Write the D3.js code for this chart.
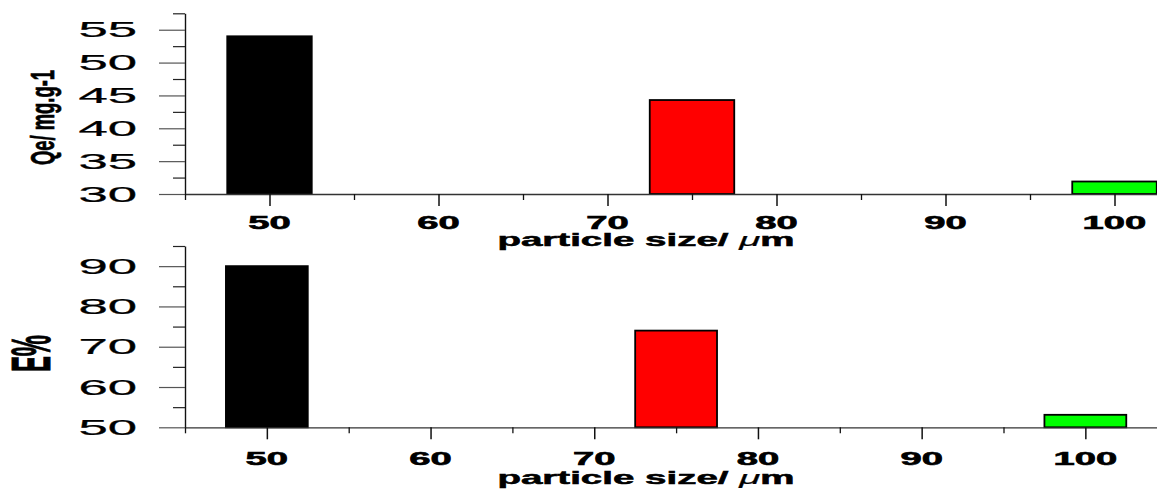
<!DOCTYPE html>
<html>
<head>
<meta charset="utf-8">
<script src="https://cdn.jsdelivr.net/npm/d3@7"></script>
<style>
html,body{margin:0;padding:0;background:#fff;overflow:hidden;}
svg{display:block;}
text{font-family:"Liberation Sans",Arial,sans-serif;fill:#000;}
</style>
</head>
<body>
<svg id="chart" width="1157" height="493"></svg>
<script>
// ---- data ----
const sizes = [50, 75, 100];
const qeValues = [54.0, 44.3, 31.9];
const eValues = [90.0, 74.0, 53.1];
const barColors = ["#000000", "#ff0000", "#00ff00"];
const xTicks = [50, 60, 70, 80, 90, 100];
const xMinorTicks = [45, 55, 65, 75, 85, 95, 105];
const qeTicks = [30, 35, 40, 45, 50, 55];
const qeMinorTicks = [32.5, 37.5, 42.5, 47.5, 52.5, 57.5];
const eTicks = [50, 60, 70, 80, 90];
const eMinorTicks = [55, 65, 75, 85, 95];
const xTitle = "particle size/ ";
const xTitleMu = "\u03bc";
const xTitleEnd = "m";
const qeTitle = "Qe/ mg.g-1";
const eTitle = "E%";
const barWidth = 5;

const svg = d3.select("#chart");

function panel(cfg) {
  const g = svg.append("g");
  const x = d3.scaleLinear().domain([45, 105]).range(cfg.xRange);
  const y = d3.scaleLinear().domain(cfg.yDomain).range(cfg.yRange);
  const y0 = cfg.yDomain[0];

  // bars
  g.selectAll("rect.bar").data(sizes).join("rect")
    .attr("class", "bar")
    .attr("x", d => x(d - barWidth / 2))
    .attr("width", d => x(d + barWidth / 2) - x(d - barWidth / 2))
    .attr("y", (d, i) => y(cfg.values[i]))
    .attr("height", (d, i) => y(y0) - y(cfg.values[i]))
    .attr("fill", (d, i) => barColors[i])
    .attr("stroke", "#000")
    .attr("stroke-width", 1.8);

  // y axis
  const yAx = g.append("g").attr("transform", `translate(${x(45)},0)`)
    .call(d3.axisLeft(y).tickValues(cfg.yTicks).tickSize(26).tickSizeOuter(0).tickFormat(""));
  yAx.select(".domain").attr("stroke", "#111").attr("stroke-width", 1.4);
  yAx.selectAll(".tick line").attr("stroke", "#555").attr("stroke-width", 1.2);
  const yMin = g.append("g").attr("transform", `translate(${x(45)},0)`)
    .call(d3.axisLeft(y).tickValues(cfg.yMinor).tickSize(12).tickSizeOuter(0).tickFormat(""));
  yMin.select(".domain").remove();
  yMin.selectAll(".tick line").attr("stroke", "#222").attr("stroke-width", 1.2);

  // x axis
  const xAx = g.append("g").attr("transform", `translate(0,${y(y0)})`)
    .call(d3.axisBottom(x).tickValues(xTicks).tickSize(12).tickSizeOuter(0).tickFormat(""));
  xAx.select(".domain").attr("stroke", "#333").attr("stroke-width", 1.3);
  xAx.selectAll(".tick line").attr("stroke", "#111").attr("stroke-width", 1.5);
  const xMin = g.append("g").attr("transform", `translate(0,${y(y0)})`)
    .call(d3.axisBottom(x).tickValues(xMinorTicks).tickSize(6).tickSizeOuter(0).tickFormat(""));
  xMin.select(".domain").remove();
  xMin.selectAll(".tick line").attr("stroke", "#111").attr("stroke-width", 1.3);

  // y tick labels
  g.selectAll("text.ylab").data(cfg.yTicks).join("text")
    .attr("class", "ylab")
    .attr("text-anchor", "end")
    .attr("font-size", 22.4)
    .attr("stroke", "#000")
    .attr("stroke-width", 0.25)
    .attr("transform", d => `translate(137,${y(d) + 7.5}) scale(2.35,1)`)
    .text(d => d);

  // x tick labels
  g.selectAll("text.xlab").data(xTicks).join("text")
    .attr("class", "xlab")
    .attr("text-anchor", "middle")
    .attr("font-size", 18.2)
    .attr("font-weight", "bold")
    .attr("stroke", "#000")
    .attr("stroke-width", 0.6)
    .attr("transform", d => `translate(${x(d)},${cfg.xLabBase}) scale(2.1,1)`)
    .text(d => d);

  // x title
  const xt = g.append("text")
    .attr("text-anchor", "middle")
    .attr("font-size", 18)
    .attr("font-weight", "bold")
    .attr("stroke", "#000")
    .attr("stroke-width", 0.5)
    .attr("transform", `translate(646,${cfg.xTitleBase}) scale(2.14,1)`);
  xt.append("tspan").text(xTitle);
  xt.append("tspan").attr("font-style", "italic").attr("font-weight", "normal").attr("stroke-width", 0.2).text(xTitleMu);
  xt.append("tspan").text(xTitleEnd);

  // y title
  g.append("text")
    .attr("text-anchor", "middle")
    .attr("font-size", cfg.yTitleSize)
    .attr("font-weight", "bold")
    .attr("stroke", "#000")
    .attr("stroke-width", 0.4)
    .attr("transform", `translate(${cfg.yTitlePos[0]},${cfg.yTitlePos[1]}) scale(${cfg.yTitleScale},1) rotate(-90)`)
    .text(cfg.yTitle);
}

panel({
  xRange: [185, 185 + 60 * 16.9],
  yDomain: [30, 57.5],
  yRange: [194, 13.3],
  values: qeValues,
  yTicks: qeTicks,
  yMinor: qeMinorTicks,
  xLabBase: 229,
  xTitleBase: 246,
  yTitle: qeTitle,
  yTitleSize: 18.4,
  yTitleScale: 1.85,
  yTitlePos: [54, 117.5]
});

panel({
  xRange: [185, 185 + 60 * 16.37],
  yDomain: [50, 95],
  yRange: [427.3, 246],
  values: eValues,
  yTicks: eTicks,
  yMinor: eMinorTicks,
  xLabBase: 464.5,
  xTitleBase: 484,
  yTitle: eTitle,
  yTitleSize: 23.8,
  yTitleScale: 2.35,
  yTitlePos: [50, 353.5]
});
</script>
</body>
</html>
